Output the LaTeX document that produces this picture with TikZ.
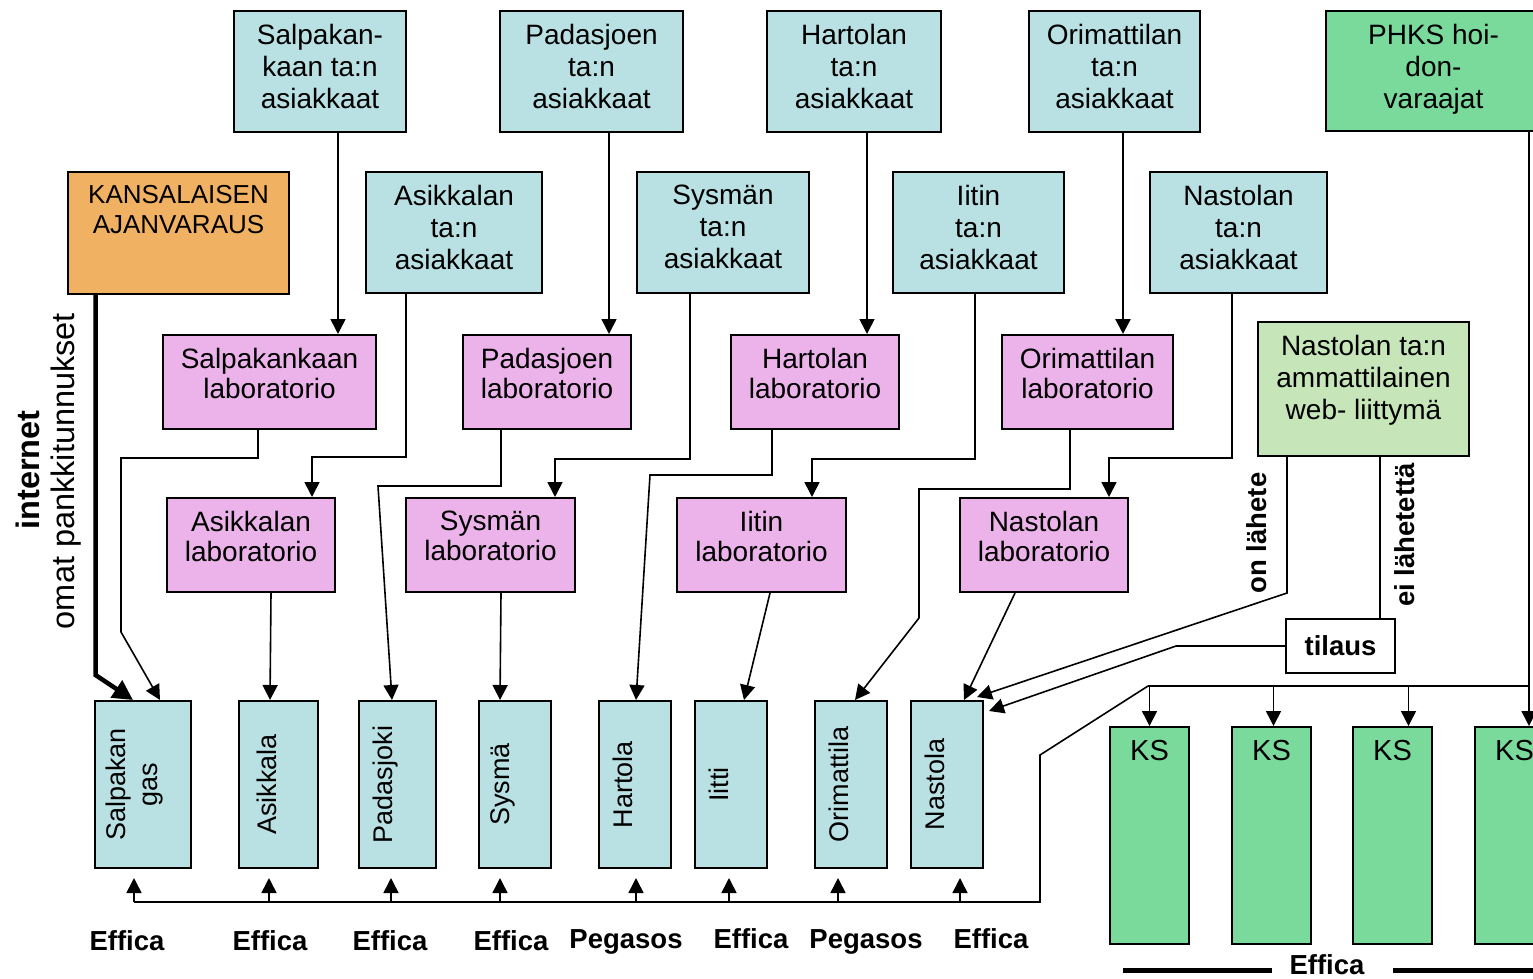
\documentclass[tikz,border=0pt]{standalone}
\usepackage{fontspec}
\setmainfont{Liberation Sans}
\usepackage{graphicx}
\usetikzlibrary{arrows.meta}
\definecolor{asiak}{RGB}{185,224,227}
\definecolor{labra}{RGB}{236,178,234}
\definecolor{kansa}{RGB}{240,178,98}
\definecolor{phksg}{RGB}{121,218,156}
\definecolor{webg}{RGB}{198,229,184}
\newcommand{\bigfont}{\fontsize{27}{32}\selectfont}
\newcommand{\boxfont}{\fontsize{28}{32}\selectfont}
\newcommand{\labfont}{\fontsize{28}{30}\selectfont}
\newcommand{\vname}[2][24pt]{\rotatebox{90}{#2}\rule{#1}{0pt}}
\tikzstyle{plainbox}=[draw=black, line width=2pt, rectangle, align=center, inner sep=4pt, anchor=north west]
\tikzstyle{asbox}=[plainbox, fill=asiak, minimum height=121pt]
\tikzstyle{labbox}=[plainbox, fill=labra, minimum height=94pt]
\tikzstyle{tallbox}=[draw=black, line width=2pt, fill=asiak, minimum height=167pt, inner sep=0pt]
\tikzstyle{ksbox}=[draw=black, line width=2pt, fill=phksg, minimum width=79pt, minimum height=217pt, anchor=north west, inner sep=0pt]
\tikzstyle{toptext}=[anchor=north, inner sep=0pt, align=center, font=\boxfont]
\tikzstyle{conn}=[draw, line width=1.6pt]
\tikzstyle{arr}=[conn, -{Triangle[length=15pt,width=15pt]}]
\tikzstyle{bold}=[font=\fontsize{27.5}{32}\selectfont\bfseries]

\begin{document}
\begin{tikzpicture}[x=1pt, y=-1pt, font=\bigfont]
    \useasboundingbox (0,0) rectangle (1533,979);
    % First the customer boxes
    \foreach \pos/\w/\name/\txt in {{(233,10)/172/salpA/{Salpakan-\\kaan ta:n\\asiakkaat}}, {(499,10)/183/padaA/{Padasjoen\\ta:n\\asiakkaat}}, {(766,10)/174/hartA/{Hartolan\\ta:n\\asiakkaat}}, {(1028,10)/171/orimA/{Orimattilan\\ta:n\\asiakkaat}}, {(365,171)/176/asikA/{Asikkalan\\ta:n\\asiakkaat}}, {(636,171)/172/sysmA/{Sysmän\\ta:n\\asiakkaat}}, {(892,171)/171/iitA/{Iitin\\ta:n\\asiakkaat}}, {(1149,171)/177/nastA/{Nastolan\\ta:n\\asiakkaat}}}
    {
        \node[asbox, minimum width=\w pt] (\name) at \pos {};
        \node[toptext] (\name-t) at ([yshift=-14pt]\name.north) {\txt};
    }

    % Laboratories
    \foreach \pos/\w/\name/\txt in {{(162,334)/213/salpL/Salpakankaan}, {(462,334)/168/padaL/Padasjoen}, {(730,334)/168/hartL/Hartolan}, {(1001,334)/171/orimL/Orimattilan}, {(166,497)/168/asikL/Asikkalan}, {(405,497)/169/sysmL/Sysmän}, {(676,497)/169/iitL/Iitin}, {(959,497)/168/nastL/Nastolan}}
    {
        \node[labbox, minimum width=\w pt] (\name) at \pos {};
        \node[toptext, font=\labfont] (\name-t) at ([yshift=-14pt]\name.north) {\txt\\laboratorio};
    }

    \node[plainbox, fill=kansa, minimum width=221pt, minimum height=122pt] (kans) at (67,171) {};
    \node[toptext, font=\fontsize{26}{30}\selectfont] (kans-t) at ([yshift=-14pt]kans.north) {KANSALAISEN\\AJANVARAUS};
    \node[plainbox, fill=phksg, minimum width=215pt, minimum height=120pt] (phks) at (1325,10) {};
    \node[toptext] (phks-t) at ([yshift=-14pt]phks.north) {PHKS hoi-\\don-\\varaajat};
    \node[plainbox, fill=webg, minimum width=211pt, minimum height=134pt] (web) at (1257,321) {};
    \node[toptext] (web-t) at ([yshift=-14pt]web.north) {Nastolan ta:n\\ammattilainen\\web- liittymä};
    \node[plainbox, fill=white, minimum width=109pt, minimum height=54pt, font=\fontsize{27.5}{32}\selectfont\bfseries] (tilaus) at (1285,618) {tilaus};

    % Health centres
    \node[tallbox, minimum width=96pt] (salgas) at (143,784.5) {\vname[16pt]{\begin{tabular}{@{}c@{}}Salpakan\\gas\end{tabular}}};
    \foreach \x/\w/\name/\txt in {278.5/79/asik/Asikkala, 397.5/77/pada/Padasjoki, 515/72/sysma/Sysmä, 635/72/harto/Hartola, 731/72/iitti/Iitti, 851/72/orim/Orimattila, 947/72/nasto/Nastola}
        \node[tallbox, minimum width=\w pt] (\name) at (\x,784.5) {\vname{\txt}};
    \foreach \x/\name in {1109/ks1, 1231/ks2, 1352/ks3, 1474/ks4}
    {
        \node[ksbox] (\name) at (\x,726) {};
        \node[toptext, font=\fontsize{29}{32}\selectfont] (\name-t) at ([yshift=-14pt]\name.north) {KS};
    }

    % Texts
    \node[font=\fontsize{32.5}{36}\selectfont\bfseries, rotate=90] (inet) at (28,470) {internet};
    \node[font=\fontsize{32.5}{36}\selectfont, rotate=90] (omat) at (66,471) {omat pankkitunnukset};
    \node[bold, rotate=90] (onlah) at (1257,533) {on lähete};
    \node[bold, rotate=90] (eilah) at (1405,535) {ei lähetettä};
    \foreach \x/\y/\name/\txt in {127/950/ef1/Effica, 270/950/ef2/Effica, 390/950/ef3/Effica, 511/950/ef4/Effica, 626/948/pe1/Pegasos, 751/948/ef5/Effica, 866/948/pe2/Pegasos, 991/948/ef6/Effica}
        \node[bold, anchor=base] (\name) at (\x,\y) {\txt};
    \node[bold, anchor=base] (efks) at (1327,974) {Effica};
    \draw[line width=5pt] (1123,970) -- (1272,970);
    \draw[line width=5pt] (1393,970) -- (1540,970);

    % Customers to laboratories
    \draw[arr] ([xshift=18pt]salpA.south) -- ([xshift=18pt]salpA.south |- salpL.north);
    \draw[arr] ([xshift=17.5pt]padaA.south) -- ([xshift=17.5pt]padaA.south |- padaL.north);
    \draw[arr] ([xshift=13pt]hartA.south) -- ([xshift=13pt]hartA.south |- hartL.north);
    \draw[arr, line width=2.4pt] ([xshift=8.5pt]orimA.south) -- ([xshift=8.5pt]orimA.south |- orimL.north);
    \draw[arr] ([xshift=-48pt]asikA.south) -- ++(0,163) -| ([xshift=61pt]asikL.north);
    \draw[arr] ([xshift=-33pt]sysmA.south) -- ++(0,165) -| ([xshift=64.5pt]sysmL.north);
    \draw[arr] ([xshift=-3.5pt]iitA.south) -- ++(0,165) -| ([xshift=50.5pt]iitL.north);
    \draw[arr] ([xshift=-6.5pt]nastA.south) -- ++(0,164) -| ([xshift=65pt]nastL.north);

    % Laboratories to health centres
    \draw[arr] ([xshift=-11.5pt]salpL.south) -- ++(0,28) -| (121,632) -- ([xshift=17pt]salgas.north);
    \draw[arr] ([xshift=-46pt]padaL.south) -- ++(0,56) -- ++(-123,0) -- ([xshift=-5.5pt]pada.north);
    \draw[arr] ([xshift=-43pt]hartL.south) -- ++(0,45) -- ++(-122,0) -- ([xshift=1pt]harto.north);
    \draw[arr] ([xshift=-17.5pt]orimL.south) -- ++(0,59) -| (919,618) -- ([xshift=4pt]orim.north);
    \draw[arr] ([xshift=20pt]asikL.south) -- ([xshift=-8.5pt]asik.north);
    \draw[arr] ([xshift=10.5pt]sysmL.south) -- ([xshift=-15pt]sysma.north);
    \draw[arr] ([xshift=8.5pt]iitL.south) -- ([xshift=13pt]iitti.north);
    \draw[arr] ([xshift=-29pt]nastL.south) -- ([xshift=17pt]nasto.north);

    % Citizen booking
    \draw[conn, line width=4.5pt, -{Triangle[length=20pt,width=20pt]}] ([xshift=-83pt]kans.south) -- ++(0,380) -- ([xshift=-10pt]salgas.north);

    % Web interface
    \draw[arr] ([xshift=-76.5pt]web.south) -- ++(0,136) -- ([xshift=-7pt,yshift=3pt]nasto.north east);
    \draw[conn] ([xshift=16.5pt]web.south) -- ([xshift=16.5pt]web.south |- tilaus.north);
    \draw[arr] (tilaus.west) -- ++(-109,0) -- ([xshift=5pt,yshift=-11pt]nasto.north east);

    % PHKS and the Effica line
    \coordinate (ksbus) at (1148,686);
    \coordinate (effbus) at (1040,902);
    \draw[arr] ([xshift=95.5pt]phks.south) -- ([xshift=95.5pt]phks.south |- ks4.north);
    \draw[conn] ([xshift=95.5pt]phks.south |- ksbus) -- (ksbus);
    \foreach \k/\dx in {ks1/0, ks2/2, ks3/16}
        \draw[arr] ([xshift=\dx pt]\k.north |- ksbus) -- ([xshift=\dx pt]\k.north);
    \draw[conn] (ksbus) -- (1040,755) -- (effbus) -- ([xshift=-9pt]salgas.south |- effbus);
    \foreach \b/\dx in {salgas/-9, asik/-9.5, pada/-6.5, sysma/-15, harto/1, iitti/-2, orim/-13, nasto/13}
        \draw[arr, shorten >=9pt] ([xshift=\dx pt]\b.south |- effbus) -- ([xshift=\dx pt]\b.south);
\end{tikzpicture}
\end{document}
